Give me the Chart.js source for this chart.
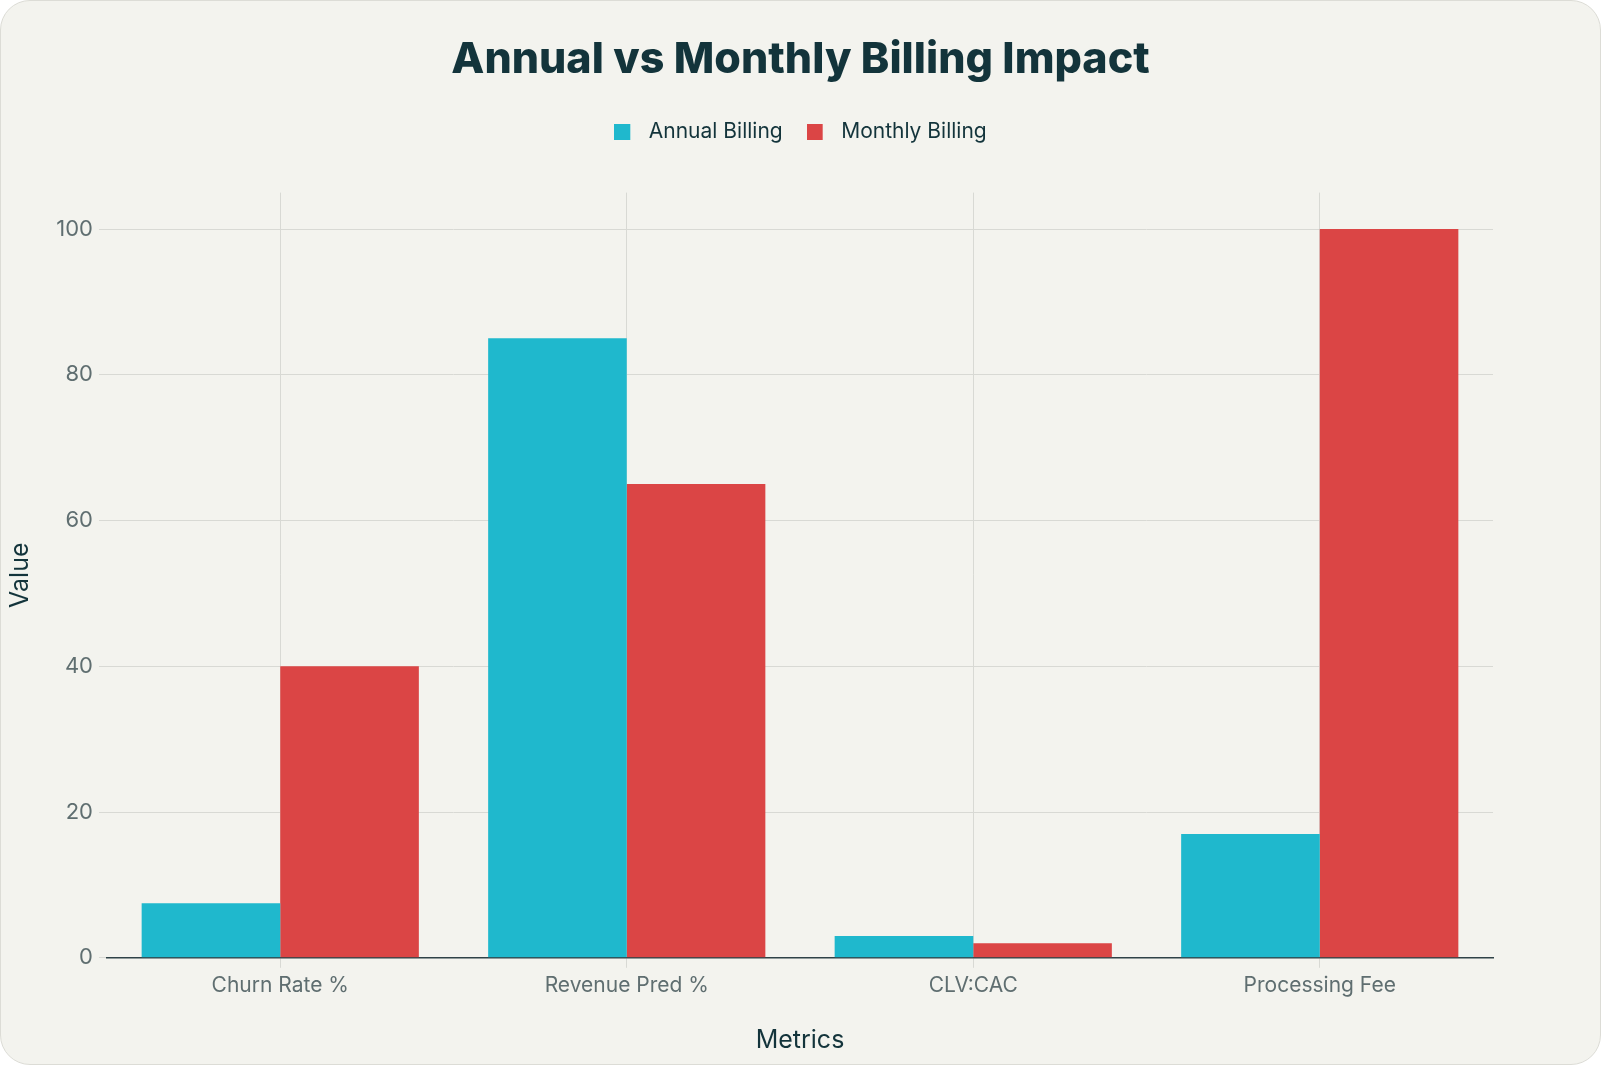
<!DOCTYPE html>
<html>
<head>
<meta charset="utf-8">
<script src="https://cdn.jsdelivr.net/npm/chart.js@4.4.1/dist/chart.umd.min.js"></script>
<style>
  html, body { margin: 0; padding: 0; background: #ffffff; }
  .card {
    position: relative;
    width: 1599px;
    height: 1063px;
    background: #f3f3ee;
    border: 1px solid #dcdcd6;
    border-radius: 30px;
    overflow: hidden;
  }
  #chart { position: absolute; left: 0; top: 0; }
</style>
</head>
<body>
<div class="card">
  <canvas id="chart" width="1599" height="1063"></canvas>
</div>
<script>
const categories = ['Churn Rate %', 'Revenue Pred %', 'CLV:CAC', 'Processing Fee'];
const annualBilling = [7.5, 85, 3, 17];
const monthlyBilling = [40, 65, 2, 100];
const yTicks = [0, 20, 40, 60, 80, 100];

const annualColor = '#1fb8cd';
const monthlyColor = '#db4545';
const textDark = '#13343b';
const textGray = '#5f6e70';
const gridColor = '#d8d9d4';

const ctx = document.getElementById('chart');

// legend square with some empty room on its right, so the label sits further away
const legendSwatch = (color) => {
    const c = document.createElement('canvas');
    c.width = 24;
    c.height = 16;
    const g = c.getContext('2d');
    g.fillStyle = color;
    g.fillRect(0, 0, 16, 16);
    return c;
};

// empty axes used only to reserve space (above the plot, right of the plot)
const spacer = (size, horizontal) => ({
    display: true,
    grid: { display: false },
    border: { display: false },
    ticks: { display: false },
    afterFit: (axis) => {
        if (horizontal) axis.height = size;
        else axis.width = size;
    },
});

new Chart(ctx, {
    type: 'bar',
    data: {
        labels: categories,
        datasets: [
            {
                label: 'Annual Billing',
                data: annualBilling,
                backgroundColor: annualColor,
                pointStyle: legendSwatch(annualColor),
                borderWidth: 0,
                xAxisID: 'x',
                yAxisID: 'y',
            },
            {
                label: 'Monthly Billing',
                data: monthlyBilling,
                backgroundColor: monthlyColor,
                pointStyle: legendSwatch(monthlyColor),
                borderWidth: 0,
                xAxisID: 'x',
                yAxisID: 'y',
            },
        ],
    },
    options: {
        responsive: false,
        animation: false,
        layout: {
            padding: { left: 3, right: 3, top: 14, bottom: 9 },
        },
        datasets: {
            bar: { categoryPercentage: 0.8, barPercentage: 1.0 },
        },
        plugins: {
            title: {
                display: true,
                text: 'Annual vs Monthly Billing Impact',
                color: textDark,
                font: { family: 'Inter', size: 43, weight: '800' },
                padding: { top: 19, bottom: 12 },
            },
            legend: {
                labels: {
                    color: textDark,
                    font: { family: 'Inter', size: 21 },
                    usePointStyle: true,
                    pointStyleWidth: 24,
                    boxHeight: 16,
                    padding: 24,
                },
            },
            tooltip: { enabled: false },
        },
        scales: {
            x: {
                grid: {
                    offset: false,
                    color: gridColor,
                    tickLength: 10,
                },
                border: { color: '#2f4247', width: 1.5 },
                ticks: {
                    color: textGray,
                    font: { family: 'Inter', size: 21 },
                    padding: 5,
                },
                title: {
                    display: true,
                    text: 'Metrics',
                    color: textDark,
                    font: { family: 'Inter', size: 25 },
                    padding: { top: 22, bottom: 0 },
                },
            },
            y: {
                min: 0,
                max: 105,
                afterBuildTicks: (axis) => {
                    axis.ticks = yTicks.map((v) => ({ value: v }));
                },
                afterFit: (axis) => {
                    axis.width = 103;
                },
                grid: {
                    color: gridColor,
                    tickLength: 8,
                },
                border: { display: false },
                ticks: {
                    color: textGray,
                    font: { family: 'Inter', size: 22 },
                    padding: 6,
                },
                title: {
                    display: true,
                    text: 'Value',
                    color: textDark,
                    font: { family: 'Inter', size: 25 },
                    padding: { top: 1, bottom: 0 },
                },
            },
            xTop: { type: 'category', position: 'top', ...spacer(40, true) },
            yRight: { type: 'linear', position: 'right', ...spacer(104, false) },
        },
    },
});
</script>
</body>
</html>
